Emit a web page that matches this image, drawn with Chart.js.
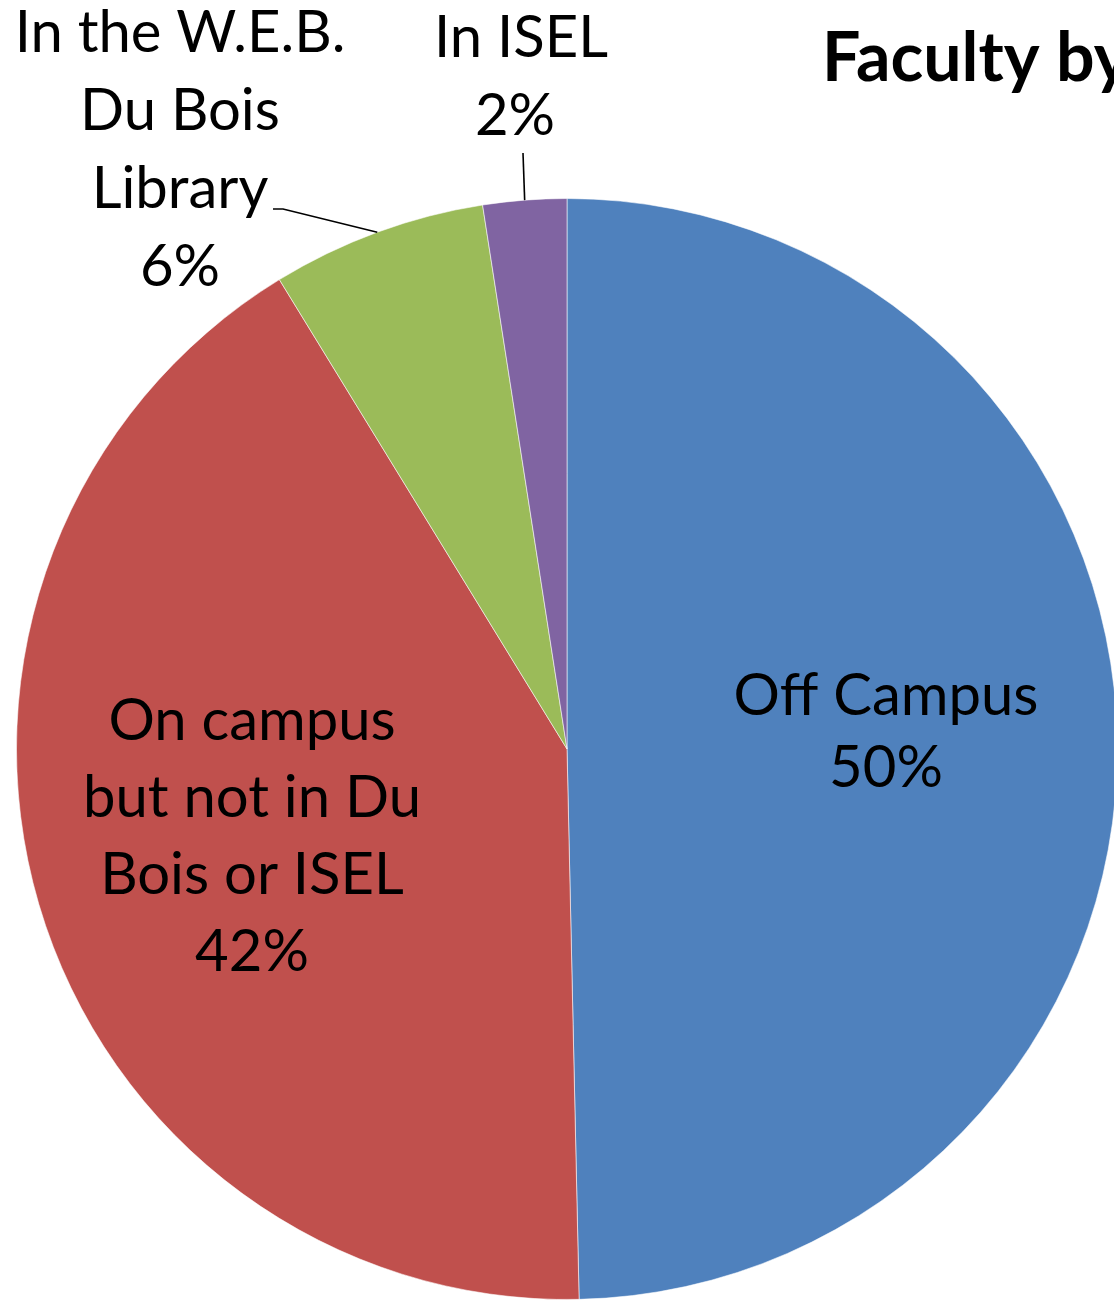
<!DOCTYPE html>
<html>
<head>
<meta charset="utf-8">
<script src="https://cdn.jsdelivr.net/npm/chart.js@4.4.0/dist/chart.umd.min.js"></script>
<style>
    html, body { margin: 0; padding: 0; background: #fff; overflow: hidden; }
    #wrap { width: 1200px; height: 1304px; }
</style>
</head>
<body>
<div id="wrap"><canvas id="pieChart" width="1200" height="1304"></canvas></div>
<script>
// chart data
const categories = [
    "Off Campus",
    "On campus but not in Du Bois or ISEL",
    "In the W.E.B. Du Bois Library",
    "In ISEL",
];
const shares = [49.65, 41.6, 6.3, 2.45];
const sliceColors = ["#4F81BD", "#C0504D", "#9BBB59", "#8064A2"];
const titleText = "Faculty by";

// label lines as they wrap in the picture (name lines, then the percentage)
const labelLines = [
    ["Off Campus"],
    ["On campus", "but not in Du", "Bois or ISEL"],
    ["In the W.E.B.", "Du Bois", "Library"],
    ["In ISEL"],
];

const FONT = "Lato, 'Liberation Sans', sans-serif";

// where each label block sits (first baseline) and its leader line, if any
const labelLayout = [
    { x: 886, y: 715, lh: 72 },
    { x: 252, y: 740, lh: 77 },
    { x: 180, y: 52, lh: 78, leader: [[283, 209], [273, 209]] },
    { x: 521, y: 57, lh: 78, pctDx: -6, leader: [[523, 153]] },
];

const labelPlugin = {
    id: "sliceLabels",
    afterDatasetsDraw(chart) {
        const { ctx } = chart;
        const meta = chart.getDatasetMeta(0);
        const total = shares.reduce((a, b) => a + b, 0);

        ctx.save();
        ctx.fillStyle = "#000";
        ctx.strokeStyle = "#000";
        ctx.lineWidth = 1.6;
        ctx.textAlign = "center";
        ctx.textBaseline = "alphabetic";
        ctx.font = `58px ${FONT}`;

        meta.data.forEach((arc, i) => {
            const pos = labelLayout[i];
            const lines = labelLines[i].concat(Math.round((shares[i] / total) * 100) + "%");

            lines.forEach((txt, k) => {
                const dx = k === lines.length - 1 ? (pos.pctDx || 0) : 0;
                ctx.fillText(txt, pos.x + dx, pos.y + k * pos.lh);
            });

            if (pos.leader) {
                const p = arc.getProps(["x", "y", "startAngle", "endAngle", "outerRadius"], true);
                const mid = (p.startAngle + p.endAngle) / 2;
                ctx.beginPath();
                ctx.moveTo(p.x + Math.cos(mid) * p.outerRadius, p.y + Math.sin(mid) * p.outerRadius);
                pos.leader.forEach(([lx, ly]) => ctx.lineTo(lx, ly));
                ctx.stroke();
            }
        });

        // title, cut off by the right edge like the original
        ctx.textAlign = "left";
        ctx.font = `bold 68px ${FONT}`;
        ctx.fillText(titleText, 822, 81);
        ctx.restore();
    },
};

const ctx = document.getElementById("pieChart").getContext("2d");

new Chart(ctx, {
    type: "pie",
    data: {
        labels: categories,
        datasets: [
            {
                data: shares,
                backgroundColor: sliceColors,
                borderColor: "rgba(255,255,255,0.55)",
                borderWidth: 1,
                hoverOffset: 0,
                offset: 0,
            },
        ],
    },
    options: {
        responsive: false,
        devicePixelRatio: 1,
        animation: false,
        events: [],
        layout: {
            padding: { left: 16, right: 82, top: 198, bottom: 4 },
        },
        plugins: {
            legend: { display: false },
            tooltip: { enabled: false },
            title: { display: false },
        },
    },
    plugins: [labelPlugin],
});
</script>
</body>
</html>
